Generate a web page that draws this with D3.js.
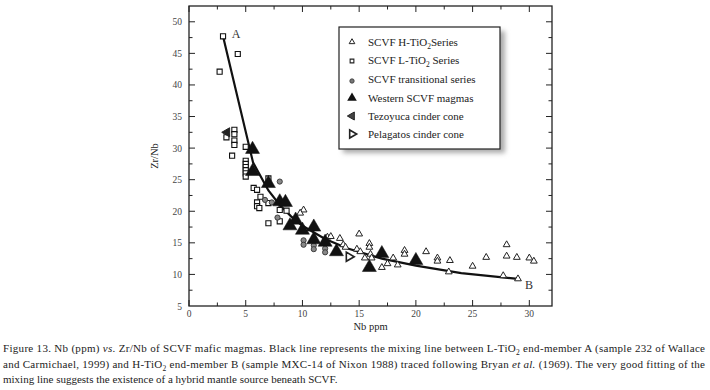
<!DOCTYPE html>
<html><head><meta charset="utf-8">
<script src="https://cdn.jsdelivr.net/npm/d3@7"></script>
<style>
body{margin:0;background:#fff;}
</style>
</head><body>
<svg id="chart" width="710" height="390" font-family="'Liberation Serif', 'DejaVu Serif', serif"></svg>
<script>
// [Nb ppm, Zr/Nb]
var hTiO2 = [[10.1,20.2],[9.8,19.7],[12.2,15.9],[12.5,16.0],[13.3,15.7],[13.6,14.7],[13.8,14.3],
  [15.0,16.4],[14.8,14.0],[15.1,13.6],[15.9,14.9],[15.9,14.3],[16.0,13.2],[15.5,12.6],[16.1,12.6],
  [17.0,11.1],[17.5,11.7],[18.0,12.6],[18.4,11.5],[19.0,13.8],[19.0,13.2],[20.9,13.6],[21.9,12.6],
  [21.9,12.1],[23.0,12.2],[22.9,10.4],[25.0,11.3],[26.2,12.7],[28.0,14.7],[28.0,12.9],[27.7,9.8],
  [28.9,12.7],[30.0,12.6],[30.4,12.1],[29.0,9.3]];
var lTiO2 = [[3.0,47.7],[4.3,44.9],[2.7,42.1],[4.0,32.9],[4.0,32.2],[4.0,31.2],[4.0,30.5],[3.3,31.7],
  [3.8,28.8],[5.0,30.2],[5.0,28.0],[5.0,27.5],[5.0,27.0],[5.0,26.5],[5.0,26.0],[5.0,25.5],
  [5.7,23.7],[6.0,23.4],[6.3,22.3],[6.0,21.4],[6.0,20.8],[6.2,20.5],[7.0,25.2],[7.0,21.3],
  [7.0,18.1],[8.0,20.2],[8.0,18.4],[8.6,20.1]];
var transitional = [[8.0,24.7],[6.7,21.8],[7.3,21.4],[7.8,19.0],[10.1,15.4],[10.1,14.7],
  [11.0,14.6],[11.0,14.0],[12.0,14.1],[12.0,13.5]];
var western = [[5.6,29.8],[5.6,26.3],[7.0,24.4],[8.0,21.5],[8.5,21.4],[9.4,18.6],[8.9,17.7],
  [10.0,17.0],[11.0,17.5],[11.0,15.5],[12.0,15.1],[13.0,13.6],[15.9,11.1],[17.0,13.3],[20.0,12.2]];
var tezoyuca = [[3.35,32.5]];
var pelagatos = [[14.1,12.8]];
// mixing line A -> B
var mixLine = [[3.0,47.7],[5.65,27.7],[7,23.3],[8,21.0],[9,19.2],[10,17.7],[12,15.6],[14,14.1],
  [17,12.5],[20,11.4],[24,10.2],[29,9.3]];
var xTicks = [0,5,10,15,20,25,30];
var yTicks = [5,10,15,20,25,30,35,40,45,50];

var svg = d3.select("#chart");
var pLeft = 189, pRight = 552, pTop = 6, pBottom = 306;

var x = d3.scaleLinear().domain([0,32]).range([pLeft,pRight]);
var y = d3.scaleLinear().domain([5,52.5]).range([pBottom,pTop]);

var axisColor = "#222", labelColor = "#444";

// frame
svg.append("rect").attr("x",pLeft).attr("y",pTop).attr("width",pRight-pLeft).attr("height",pBottom-pTop)
  .attr("fill","none").attr("stroke",axisColor).attr("stroke-width",1.3);

// ticks, all pointing inwards
var xMinor = d3.range(2.5,32,5), yMinor = d3.range(7.5,52,5);
function tickSet(vals, len, isX){
  vals.forEach(function(v){
    if(isX){
      svg.append("line").attr("x1",x(v)).attr("x2",x(v)).attr("y1",pBottom).attr("y2",pBottom-len).attr("stroke",axisColor);
      svg.append("line").attr("x1",x(v)).attr("x2",x(v)).attr("y1",pTop).attr("y2",pTop+len).attr("stroke",axisColor);
    } else {
      svg.append("line").attr("y1",y(v)).attr("y2",y(v)).attr("x1",pLeft).attr("x2",pLeft+len).attr("stroke",axisColor);
      svg.append("line").attr("y1",y(v)).attr("y2",y(v)).attr("x1",pRight).attr("x2",pRight-len).attr("stroke",axisColor);
    }
  });
}
tickSet(xTicks,6,true); tickSet(xMinor,3.5,true);
tickSet(yTicks.filter(function(v){return v>5;}),6,false); tickSet(yMinor,3.5,false);

svg.selectAll(".xl").data(xTicks).enter().append("text")
  .attr("x",function(d){return x(d);}).attr("y",pBottom+11)
  .attr("text-anchor","middle").attr("font-size",9.5).attr("fill",labelColor)
  .text(function(d){return d;});
svg.selectAll(".yl").data(yTicks).enter().append("text")
  .attr("x",pLeft-7).attr("y",function(d){return y(d)+3.5;})
  .attr("text-anchor","end").attr("font-size",9.5).attr("fill",labelColor)
  .text(function(d){return d;});

svg.append("text").attr("x",(pLeft+pRight)/2).attr("y",330).attr("text-anchor","middle")
  .attr("font-size",10.5).attr("fill","#222").text("Nb ppm");
svg.append("text").attr("transform","translate(158,"+((pTop+pBottom)/2)+") rotate(-90)")
  .attr("text-anchor","middle").attr("font-size",10.5).attr("fill","#222").text("Zr/Nb");

// mixing line
svg.append("path").datum(mixLine)
  .attr("d", d3.line().x(function(d){return x(d[0]);}).y(function(d){return y(d[1]);}))
  .attr("fill","none").attr("stroke","#111").attr("stroke-width",2.2);

var triSmall = d3.symbol().type(d3.symbolTriangle).size(20);
var triBig = d3.symbol().type(d3.symbolTriangle).size(85);
var triMid = d3.symbol().type(d3.symbolTriangle).size(36);
var sq = d3.symbol().type(d3.symbolSquare).size(26);

function pts(data, path, fill, stroke, sw, rot){
  svg.append("g").selectAll("path").data(data).enter().append("path")
    .attr("d", path)
    .attr("transform", function(d){return "translate("+x(d[0])+","+y(d[1])+")"+(rot?" rotate("+rot+")":"");})
    .attr("fill", fill).attr("stroke", stroke).attr("stroke-width", sw);
}
pts(lTiO2, sq, "#fff", "#111", 1.1);
pts(hTiO2, triSmall, "#fff", "#222", 1);
svg.append("g").selectAll("circle").data(transitional).enter().append("circle")
  .attr("cx",function(d){return x(d[0]);}).attr("cy",function(d){return y(d[1]);})
  .attr("r",2.6).attr("fill","#888").attr("stroke","#333").attr("stroke-width",0.9);
pts(western, triBig, "#111", "#111", 0.5);
pts(tezoyuca, triMid, "#222", "#222", 1, -90);
pts(pelagatos, triMid, "#fff", "#222", 1.6, 90);

svg.append("text").attr("x",236).attr("y",38).attr("text-anchor","middle").attr("font-size",12).attr("fill","#333").text("A");
svg.append("text").attr("x",529).attr("y",289).attr("text-anchor","middle").attr("font-size",12).attr("fill","#333").text("B");

// legend
var defs = svg.append("defs");
defs.append("filter").attr("id","blur").append("feGaussianBlur").attr("stdDeviation",2.5);
svg.append("rect").attr("x",343).attr("y",31).attr("width",162).attr("height",122).attr("fill","#aaa").attr("filter","url(#blur)");
svg.append("rect").attr("x",339).attr("y",27).attr("width",161).attr("height",122).attr("fill","#fff").attr("stroke","#222").attr("stroke-width",1.2);

var legendNames = [["SCVF H-TiO","2","Series"],["SCVF L-TiO","2"," Series"],["SCVF transitional series"],
  ["Western SCVF magmas"],["Tezoyuca cinder cone"],["Pelagatos cinder cone"]];
var legendY = [42,60,79,98,116,134];
var lx = 352;
svg.append("path").attr("d",d3.symbol().type(d3.symbolTriangle).size(14)()).attr("transform","translate("+lx+","+legendY[0]+")").attr("fill","#fff").attr("stroke","#222");
svg.append("path").attr("d",d3.symbol().type(d3.symbolSquare).size(14)()).attr("transform","translate("+lx+","+(legendY[1]+1)+")").attr("fill","#fff").attr("stroke","#222").attr("stroke-width",1.1);
svg.append("circle").attr("cx",lx).attr("cy",legendY[2]+2).attr("r",2.2).attr("fill","#777").attr("stroke","#333").attr("stroke-width",0.8);
svg.append("path").attr("d",d3.symbol().type(d3.symbolTriangle).size(40)()).attr("transform","translate("+lx+","+legendY[3]+")").attr("fill","#111");
svg.append("path").attr("d",d3.symbol().type(d3.symbolTriangle).size(28)()).attr("transform","translate("+lx+","+legendY[4]+") rotate(-90)").attr("fill","#444").attr("stroke","#222");
svg.append("path").attr("d",d3.symbol().type(d3.symbolTriangle).size(28)()).attr("transform","translate("+lx+","+legendY[5]+") rotate(90)").attr("fill","#fff").attr("stroke","#222").attr("stroke-width",1.6);

legendNames.forEach(function(n,i){
  var t = svg.append("text").attr("x",368).attr("y",legendY[i]+4).attr("font-size",11).attr("fill","#222");
  t.append("tspan").text(n[0]);
  if(n.length>1){
    t.append("tspan").attr("dy",3).attr("font-size",7.5).text(n[1]);
    t.append("tspan").attr("dy",-3).text(n[2]);
  }
});

// caption
var capLines = [
  [["Figure 13. Nb (ppm) "],["vs.","i"],[" Zr/Nb of SCVF mafic magmas. Black line represents the mixing line between L-TiO"],["2","s"],[" end-member A (sample 232 of Wallace"]],
  [["and Carmichael, 1999) and H-TiO"],["2","s"],[" end-member B (sample MXC-14 of Nixon 1988) traced following Bryan "],["et al.","i"],[" (1969). The very good fitting of the"]],
  [["mixing line suggests the existence of a hybrid mantle source beneath SCVF."]]
];
var capY = [352,368,383];
capLines.forEach(function(line,i){
  var t = svg.append("text").attr("x",3).attr("y",capY[i]).attr("font-size",11).attr("fill","#222");
  if(i<2) t.attr("textLength",702).attr("lengthAdjust","spacing");
  var prevSub = false;
  line.forEach(function(seg){
    var s = t.append("tspan").text(seg[0]);
    if(seg[1]=="i") s.attr("font-style","italic");
    if(seg[1]=="s") s.attr("font-size",7.5).attr("dy",2.5);
    else if(prevSub) s.attr("dy",-2.5);
    prevSub = seg[1]=="s";
  });
});
</script>
</body></html>
